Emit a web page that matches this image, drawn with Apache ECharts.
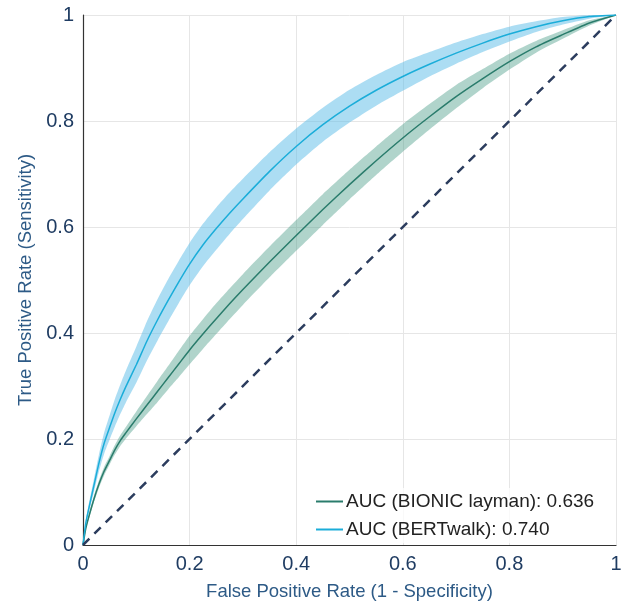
<!DOCTYPE html>
<html>
<head>
<meta charset="utf-8">
<script src="https://cdn.jsdelivr.net/npm/echarts@6/dist/echarts.min.js"></script>
<style>
  html, body { margin: 0; padding: 0; background: #ffffff; }
  #chart { width: 627px; height: 606px; }
</style>
</head>
<body>
<div id="chart"></div>
<script>
// False positive rate grid
const fpr = [0, 0.005, 0.01, 0.02, 0.03, 0.04, 0.05, 0.06, 0.07, 0.08, 0.1, 0.12, 0.14, 0.16, 0.18, 0.2, 0.225, 0.25, 0.275, 0.3, 0.35, 0.4, 0.45, 0.5, 0.55, 0.6, 0.65, 0.7, 0.75, 0.8, 0.85, 0.9, 0.95, 1];

// BERTwalk mean ROC (true positive rate)
const tprBertwalk = [0, 0.04, 0.065, 0.11, 0.155, 0.193, 0.222, 0.25, 0.275, 0.298, 0.34, 0.385, 0.425, 0.462, 0.497, 0.53, 0.566, 0.597, 0.626, 0.653, 0.705, 0.752, 0.793, 0.828, 0.858, 0.884, 0.907, 0.928, 0.947, 0.964, 0.978, 0.989, 0.997, 1];
// BERTwalk band half-width
const bandBertwalk = [0, 0.005, 0.008, 0.012, 0.016, 0.02, 0.023, 0.026, 0.028, 0.03, 0.034, 0.037, 0.039, 0.04, 0.04, 0.04, 0.04, 0.04, 0.039, 0.038, 0.036, 0.034, 0.032, 0.031, 0.029, 0.027, 0.023, 0.02, 0.017, 0.014, 0.01, 0.007, 0.004, 0];

// BIONIC layman mean ROC
const tprBionic = [0, 0.03, 0.05, 0.085, 0.115, 0.14, 0.16, 0.18, 0.197, 0.211, 0.238, 0.264, 0.29, 0.316, 0.342, 0.368, 0.398, 0.427, 0.455, 0.482, 0.534, 0.584, 0.633, 0.68, 0.725, 0.768, 0.808, 0.846, 0.88, 0.912, 0.94, 0.963, 0.985, 1];
// BIONIC band half-width
const bandBionic = [0, 0.002, 0.004, 0.006, 0.007, 0.008, 0.008, 0.009, 0.01, 0.011, 0.014, 0.017, 0.02, 0.022, 0.025, 0.027, 0.028, 0.029, 0.029, 0.029, 0.029, 0.029, 0.029, 0.028, 0.027, 0.026, 0.024, 0.022, 0.018, 0.015, 0.011, 0.008, 0.005, 0];

// Chance line
const chanceX = [0, 1];
const chanceY = [0, 1];

const seriesNames = ['AUC (BIONIC layman): 0.636', 'AUC (BERTwalk): 0.740'];
const xTitle = 'False Positive Rate (1 - Specificity)';
const yTitle = 'True Positive Rate (Sensitivity)';

const FONT = "'Liberation Sans', Arial, Helvetica, sans-serif";

function pairs(xs, ys) { return xs.map((x, i) => [x, ys[i]]); }

function bandSeries(tpr, half, fill) {
  return {
    type: 'custom',
    silent: true,
    clip: true,
    z: 1,
    data: [[0, 0]],
    renderItem: function (params, api) {
      const pts = [];
      for (let i = 0; i < fpr.length; i++) {
        pts.push(api.coord([fpr[i], Math.min(1, tpr[i] + half[i])]));
      }
      for (let i = fpr.length - 1; i >= 0; i--) {
        pts.push(api.coord([fpr[i], Math.max(0, tpr[i] - half[i])]));
      }
      return { type: 'polygon', shape: { points: pts, smooth: 0.2 }, style: { fill: fill, stroke: null } };
    }
  };
}

const chart = echarts.init(document.getElementById('chart'), null, { renderer: 'canvas' });

chart.setOption({
  animation: false,
  backgroundColor: '#ffffff',
  grid: { left: 83, right: 11, top: 15, bottom: 56, containLabel: false },
  xAxis: {
    type: 'value', min: 0, max: 1, interval: 0.2,
    name: xTitle, nameLocation: 'middle', nameGap: 37,
    nameTextStyle: { color: '#2d5a86', fontSize: 18.5, fontFamily: FONT },
    axisLine: { show: true, lineStyle: { color: '#333333', width: 1.2 } },
    axisTick: { show: false },
    axisLabel: { color: '#1f3c62', fontSize: 20, fontFamily: FONT, margin: 9 },
    splitLine: { show: true, lineStyle: { color: '#e6e6e6', width: 1 } }
  },
  yAxis: {
    type: 'value', min: 0, max: 1, interval: 0.2,
    name: yTitle, nameLocation: 'middle', nameGap: 44, nameRotate: 90,
    nameTextStyle: { color: '#2d5a86', fontSize: 18.5, fontFamily: FONT },
    axisLine: { show: true, lineStyle: { color: '#333333', width: 1.2 } },
    axisTick: { show: false },
    axisLabel: { color: '#1f3c62', fontSize: 20, fontFamily: FONT, margin: 9 },
    splitLine: { show: true, lineStyle: { color: '#e6e6e6', width: 1 } }
  },
  legend: {
    data: seriesNames,
    orient: 'vertical',
    left: 310, top: 488,
    padding: [4, 5],
    itemWidth: 27, itemHeight: 14, itemGap: 9,
    backgroundColor: 'rgba(255,255,255,0.75)',
    itemStyle: { opacity: 0 },
    textStyle: { color: '#222222', fontSize: 19, fontFamily: FONT, padding: [0, 0, 0, -2] }
  },
  series: [
    bandSeries(tprBionic, bandBionic, 'rgba(80,160,140,0.45)'),
    bandSeries(tprBertwalk, bandBertwalk, 'rgba(90,188,232,0.5)'),
    {
      name: seriesNames[0], type: 'line', z: 3,
      data: pairs(fpr, tprBionic), symbol: 'none', smooth: 0.2,
      lineStyle: { color: '#2a7c6c', width: 1.5 }, itemStyle: { color: '#2a7c6c' }
    },
    {
      name: seriesNames[1], type: 'line', z: 3,
      data: pairs(fpr, tprBertwalk), symbol: 'none', smooth: 0.2,
      lineStyle: { color: '#1badd9', width: 1.5 }, itemStyle: { color: '#1badd9' }
    },
    {
      name: 'chance', type: 'line', z: 4,
      data: pairs(chanceX, chanceY), symbol: 'none',
      lineStyle: { color: '#2c3d5e', width: 2.5, type: [9, 7] }
    }
  ]
});
</script>
</body>
</html>
